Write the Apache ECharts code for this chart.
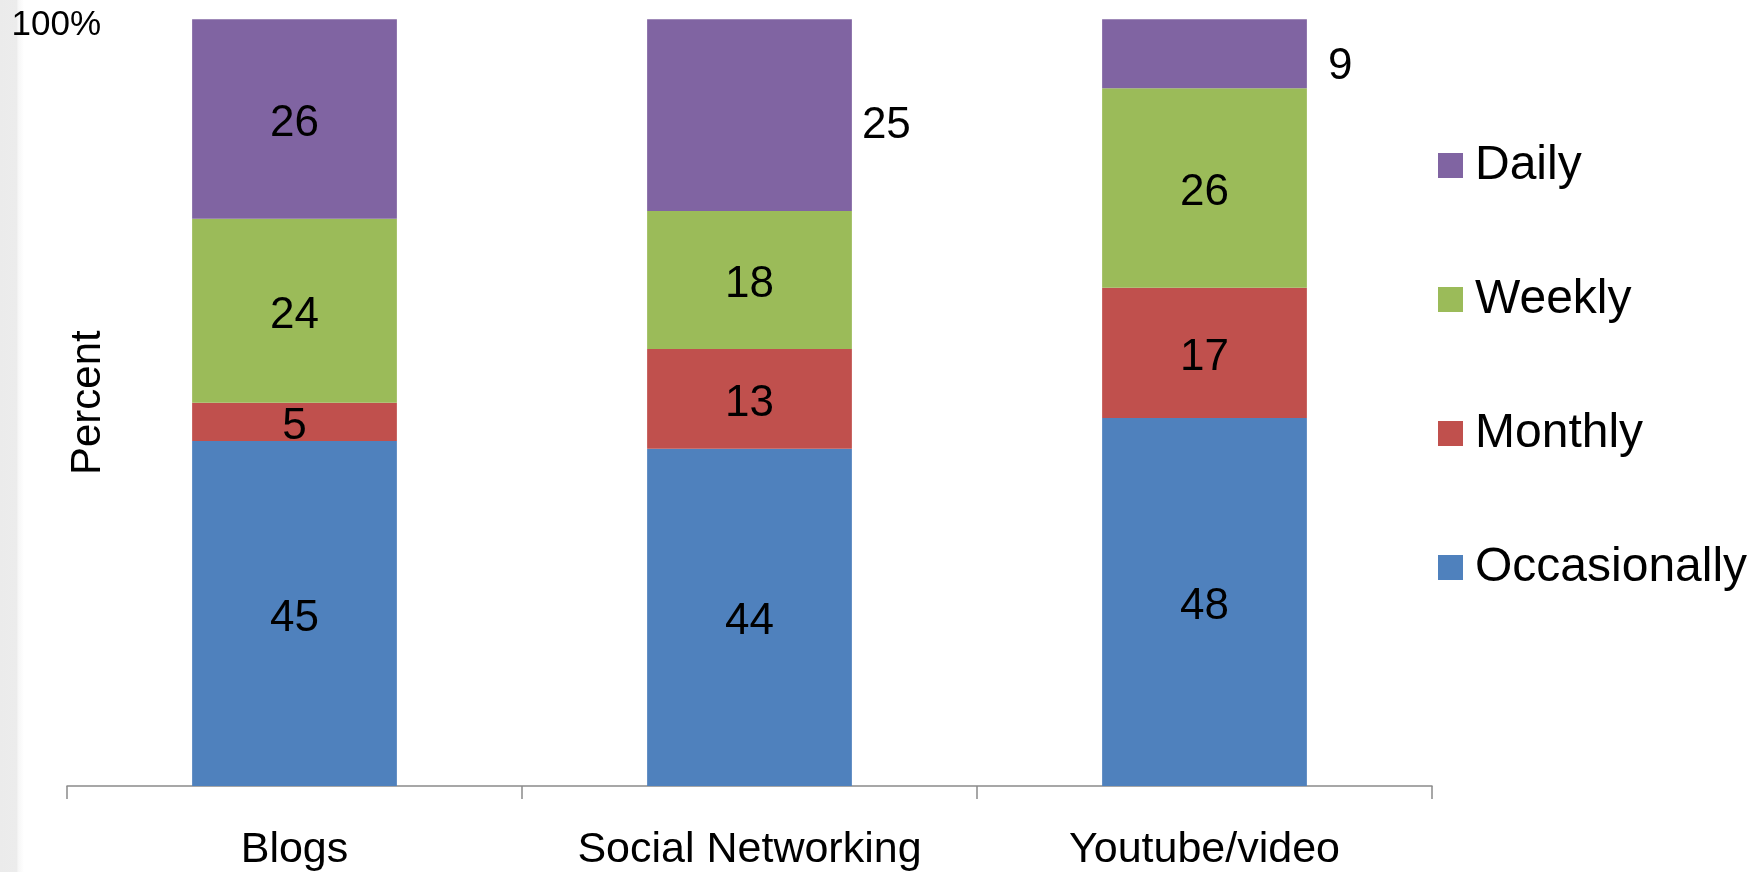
<!DOCTYPE html>
<html>
<head>
<meta charset="utf-8">
<script src="https://cdn.jsdelivr.net/npm/echarts@6/dist/echarts.min.js"></script>
<style>
html,body{margin:0;padding:0;background:#fff;}
#chart{width:1760px;height:872px;}
</style>
</head>
<body>
<div id="chart"></div>
<script>
const categories = ['Blogs', 'Social Networking', 'Youtube/video'];
const occasionally = [45, 44, 48];
const monthly = [5, 13, 17];
const weekly = [24, 18, 26];
const daily = [26, 25, 9];
const seriesNames = ['Occasionally', 'Monthly', 'Weekly', 'Daily'];
const colors = ['#4F81BD', '#C0504D', '#9BBB59', '#8064A2'];
const yTopLabel = '100%';

const FONT = 'Liberation Sans, Arial, sans-serif';
const chart = echarts.init(document.getElementById('chart'), null, {renderer: 'canvas'});

function insideLabel() {
  return {show: true, position: 'inside', color: '#000', fontSize: 44, fontFamily: FONT, offset: [0, 5]};
}

function dailyData() {
  return daily.map((v, i) => {
    if (i === 0) return v;
    const dist = i === 1 ? 10 : 21;
    const dy = i === 1 ? 11 : 13;
    return {value: v, label: {position: 'right', distance: dist, offset: [0, dy]}};
  });
}

const option = {
  backgroundColor: '#fff',
  animation: false,
  graphic: [{
    type: 'rect', left: 0, top: 0, silent: true, z: -10,
    shape: {width: 24, height: 872},
    style: {fill: new echarts.graphic.LinearGradient(0, 0, 1, 0, [
      {offset: 0, color: '#ebebeb'}, {offset: 0.7, color: '#ececec'}, {offset: 0.75, color: '#f6f6f6'}, {offset: 1, color: '#ffffff'}])}
  }],
  grid: {left: 67, right: 328, top: 19.3, bottom: 86, containLabel: false, outerBoundsMode: 'none'},
  legend: {
    orient: 'vertical', left: 1438, top: 140.5, padding: 0,
    data: ['Daily', 'Weekly', 'Monthly', 'Occasionally'],
    icon: 'rect', itemWidth: 25, itemHeight: 25, itemGap: 84,
    textStyle: {fontSize: 48, fontFamily: FONT, color: '#000', lineHeight: 50, padding: [0, 0, 0, 7]}
  },
  xAxis: {
    type: 'category', data: categories,
    axisLine: {show: true, lineStyle: {color: '#8a8a8a', width: 1.5}},
    axisTick: {show: true, length: 13, lineStyle: {color: '#8a8a8a', width: 1.5}},
    axisLabel: {fontSize: 43, fontFamily: FONT, color: '#000', margin: 43, lineHeight: 42}
  },
  yAxis: {
    type: 'value', min: 0, max: 100, interval: 100,
    name: 'Percent', nameLocation: 'middle', nameGap: -42, nameRotate: 90, nameMoveOverlap: false,
    nameTextStyle: {fontSize: 42, fontFamily: FONT, color: '#000'},
    axisLine: {show: false}, axisTick: {show: false}, splitLine: {show: false},
    axisLabel: {
      fontSize: 35, fontFamily: FONT, color: '#000', margin: -34,
      verticalAlign: 'top', lineHeight: 12,
      formatter: v => v === 100 ? yTopLabel : ''
    }
  },
  series: [
    {name: seriesNames[0], type: 'bar', stack: 'a', data: occasionally, barCategoryGap: '55%', itemStyle: {color: colors[0]}, label: insideLabel()},
    {name: seriesNames[1], type: 'bar', stack: 'a', data: monthly, itemStyle: {color: colors[1]}, label: insideLabel()},
    {name: seriesNames[2], type: 'bar', stack: 'a', data: weekly, itemStyle: {color: colors[2]}, label: insideLabel()},
    {name: seriesNames[3], type: 'bar', stack: 'a', data: dailyData(), itemStyle: {color: colors[3]}, label: insideLabel()}
  ]
};
chart.setOption(option);
</script>
</body>
</html>
